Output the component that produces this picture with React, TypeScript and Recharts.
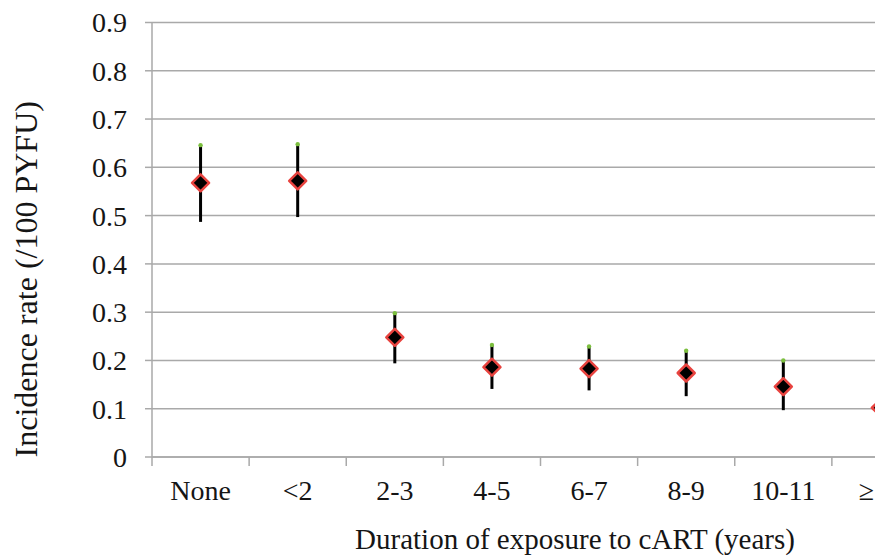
import { CartesianGrid, ComposedChart, ErrorBar, Scatter, XAxis, YAxis } from "recharts";

const categories = ["None", "<2", "2-3", "4-5", "6-7", "8-9", "10-11", "≥12"];
const rates = [0.568, 0.572, 0.248, 0.186, 0.183, 0.174, 0.146, 0.102];
const lower = [0.487, 0.497, 0.194, 0.141, 0.138, 0.126, 0.097, 0.06];
const upper = [0.646, 0.648, 0.298, 0.232, 0.229, 0.22, 0.2, 0.155];
const yTicks = [0, 0.1, 0.2, 0.3, 0.4, 0.5, 0.6, 0.7, 0.8, 0.9];

const FONT =
  "'Liberation Serif', 'Noto Serif', 'FreeSerif', 'Nimbus Roman', 'Times', 'DejaVu Serif', serif";
const GRID = "#a9a9a9";
const INK = "#151515";

const CHART_W = 945;
const CHART_H = 557;
const MARGIN = { top: 22.5, right: 16, left: 0, bottom: 0 };
const Y_AXIS_W = 152;
const X_AXIS_H = 100;
const TICK_SIZE = 9;
const TICK_MARGIN = 14;
const BAND = (CHART_W - MARGIN.left - MARGIN.right - Y_AXIS_W) / categories.length;

const data = categories.map((cat, i) => ({
  cat,
  rate: rates[i],
  upper: upper[i],
  err: [rates[i] - lower[i], upper[i] - rates[i]],
}));

function CatTick(props: any) {
  const { x, y, payload } = props;
  const axisY = y - TICK_SIZE - TICK_MARGIN;
  const bx = x - BAND / 2;
  return (
    <g>
      <line x1={bx} x2={bx} y1={axisY} y2={axisY + TICK_SIZE} stroke={GRID} strokeWidth={1.5} />
      <text x={x} y={y} dy="0.71em" textAnchor="middle" fontSize={28} fill={INK} style={{ fontFamily: FONT }}>
        {payload.value}
      </text>
    </g>
  );
}

function Diamond(props: any) {
  const { cx, cy } = props;
  const r = 8.5;
  return (
    <path
      d={`M${cx},${cy - r}L${cx + r},${cy}L${cx},${cy + r}L${cx - r},${cy}Z`}
      fill="#000"
      stroke="#e8433f"
      strokeWidth={2.5}
      strokeLinejoin="round"
    />
  );
}

function UpperDot(props: any) {
  const { cx, cy } = props;
  return <circle cx={cx} cy={cy} r={2.2} fill="#7cbf3f" />;
}

function YTitle(props: any) {
  const vb = props.viewBox;
  const x = vb.x + 37;
  const y = vb.y + vb.height / 2 + 39.5;
  return (
    <text
      x={x}
      y={y}
      transform={`rotate(-90, ${x}, ${y})`}
      textAnchor="middle"
      fontSize={32}
      fill={INK}
      style={{ fontFamily: FONT }}
    >
      Incidence rate (/100 PYFU)
    </text>
  );
}

function XTitle(props: any) {
  const vb = props.viewBox;
  return (
    <text
      x={vb.x + vb.width / 2 + 34.5}
      y={vb.y + 92}
      textAnchor="middle"
      fontSize={29}
      fill={INK}
      style={{ fontFamily: FONT }}
    >
      Duration of exposure to cART (years)
    </text>
  );
}

export default function App() {
  return (
    <div
      style={{
        position: "absolute",
        left: 0,
        top: 0,
        width: 875,
        height: 557,
        overflow: "hidden",
        background: "#fff",
        fontFamily: FONT,
      }}
    >
      <ComposedChart width={CHART_W} height={CHART_H} data={data} margin={MARGIN}>
        <CartesianGrid vertical={false} stroke={GRID} strokeWidth={1.5} />
        <XAxis
          dataKey="cat"
          type="category"
          scale="point"
          padding={{ left: BAND / 2, right: BAND / 2 }}
          interval={0}
          height={X_AXIS_H}
          tickSize={TICK_SIZE}
          tickMargin={TICK_MARGIN}
          tickLine={false}
          axisLine={{ stroke: GRID, strokeWidth: 1.5 }}
          tick={<CatTick />}
          label={XTitle}
        />
        <YAxis
          type="number"
          domain={[0, 0.9]}
          ticks={yTicks}
          interval={0}
          width={Y_AXIS_W}
          tickSize={7}
          tickMargin={18}
          tickLine={{ stroke: GRID, strokeWidth: 1.5 }}
          axisLine={{ stroke: GRID, strokeWidth: 1.5 }}
          tickFormatter={(v: number) => (v === 0 ? "0" : v.toFixed(1))}
          tick={{ fontSize: 28, fill: INK, style: { fontFamily: FONT } }}
          label={YTitle}
        />
        <Scatter dataKey="rate" shape={<Diamond />} isAnimationActive={false}>
          <ErrorBar dataKey="err" direction="y" width={0} stroke="#000" strokeWidth={3} />
        </Scatter>
        <Scatter dataKey="upper" shape={<UpperDot />} isAnimationActive={false} />
      </ComposedChart>
    </div>
  );
}
